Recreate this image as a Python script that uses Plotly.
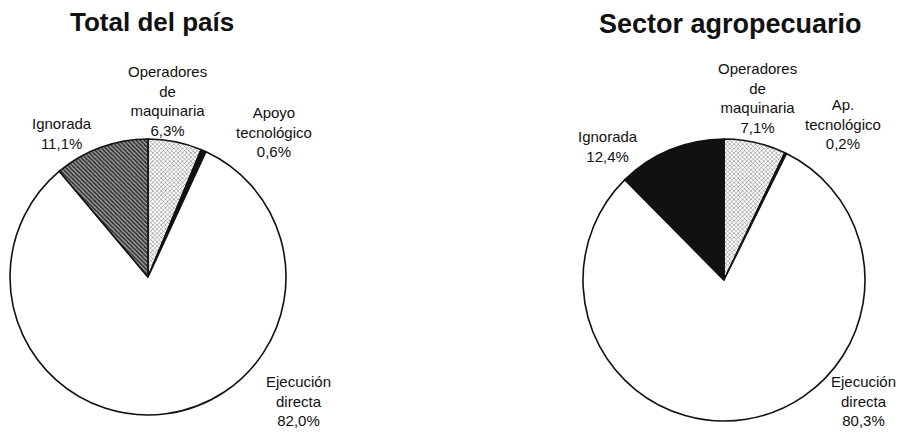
import plotly.graph_objects as go

categories = ["Operadores de maquinaria", "Apoyo tecnológico", "Ejecución directa", "Ignorada"]
total_pais = [6.3, 0.6, 82.0, 11.1]
sector_agro = [7.1, 0.2, 80.3, 12.4]

titles = ["Total del país", "Sector agropecuario"]
labels_total = ["Operadores<br>de<br>maquinaria<br>6,3%", "Apoyo<br>tecnológico<br>0,6%",
                "Ejecución<br>directa<br>82,0%", "Ignorada<br>11,1%"]
labels_agro = ["Operadores<br>de<br>maquinaria<br>7,1%", "Ap.<br>tecnológico<br>0,2%",
               "Ejecución<br>directa<br>80,3%", "Ignorada<br>12,4%"]

W, H = 904, 433
FONT = "Liberation Sans, Arial, sans-serif"


def px(x):
    return x / W


def py(y):
    return 1 - y / H


fig = go.Figure()

common = dict(sort=False, direction="clockwise", rotation=0, textinfo="none",
              hoverinfo="label+percent", showlegend=False)

fig.add_trace(go.Pie(
    labels=categories, values=total_pais,
    domain=dict(x=[px(148 - 138), px(148 + 138)], y=[py(277 + 138), py(277 - 138)]),
    marker=dict(
        colors=["white", "#111111", "white", "#8a8a8a"],
        line=dict(color="#111111", width=1.6),
        pattern=dict(shape=["x", "", "", "\\"],
                     fgcolor=["#666666", "#111111", "#111111", "#222222"],
                     bgcolor=["#ffffff", "#111111", "#ffffff", "#9a9a9a"],
                     size=[3, 4, 4, 3], solidity=[0.3, 0.3, 0.3, 0.45]),
    ),
    **common,
))

fig.add_trace(go.Pie(
    labels=categories, values=sector_agro,
    domain=dict(x=[px(724 - 141), px(724 + 141)], y=[py(280 + 141), py(280 - 141)]),
    marker=dict(
        colors=["white", "#111111", "white", "#111111"],
        line=dict(color="#111111", width=1.6),
        pattern=dict(shape=["x", "", "", ""],
                     fgcolor=["#666666", "#111111", "#111111", "#111111"],
                     bgcolor=["#ffffff", "#111111", "#ffffff", "#111111"],
                     size=[3, 4, 4, 4], solidity=[0.3, 0.3, 0.3, 0.3]),
    ),
    **common,
))

annotations = []
annotations.append(dict(x=px(152), y=py(22), text="<b>" + titles[0] + "</b>",
                        font=dict(size=26, color="#111111", family=FONT)))
annotations.append(dict(x=px(730), y=py(24), text="<b>" + titles[1] + "</b>",
                        font=dict(size=27, color="#111111", family=FONT)))

pos_total = [(167, 101), (274, 132), (298, 401), (62, 133)]
pos_agro = [(757, 98), (843, 124), (863, 401), (608, 146)]

for txt, (x, y) in zip(labels_total, pos_total):
    annotations.append(dict(x=px(x), y=py(y), text=txt,
                            font=dict(size=15, color="#111111", family=FONT)))
for txt, (x, y) in zip(labels_agro, pos_agro):
    annotations.append(dict(x=px(x), y=py(y), text=txt,
                            font=dict(size=15, color="#111111", family=FONT)))

for a in annotations:
    a.update(xref="paper", yref="paper", showarrow=False, xanchor="center", yanchor="middle", align="center")

fig.update_layout(
    width=W, height=H,
    margin=dict(l=0, r=0, t=0, b=0),
    paper_bgcolor="white", plot_bgcolor="white",
    annotations=annotations,
)

fig.write_html("out.html", config={"displayModeBar": False},
               post_script="document.body.style.margin='0';document.body.style.overflow='hidden';")
